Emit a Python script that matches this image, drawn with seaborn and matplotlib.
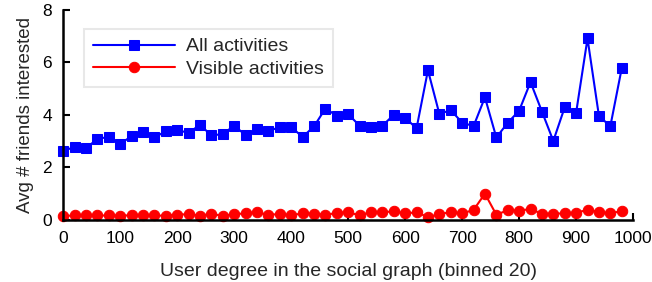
import pandas as pd
import matplotlib
matplotlib.use("Agg")
import matplotlib.pyplot as plt
import seaborn as sns

# Data (degree bins of 20)
degree = list(range(0, 1000, 20))
all_activities = [
    2.63, 2.78, 2.73, 3.09, 3.16, 2.90, 3.19, 3.34, 3.14, 3.38,
    3.42, 3.32, 3.62, 3.22, 3.27, 3.59, 3.23, 3.46, 3.38, 3.54,
    3.54, 3.16, 3.56, 4.24, 3.97, 4.03, 3.59, 3.54, 3.59, 4.00,
    3.89, 3.49, 5.70, 4.04, 4.18, 3.71, 3.57, 4.67, 3.14, 3.70,
    4.16, 5.25, 4.13, 3.01, 4.29, 4.08, 6.91, 3.97, 3.56, 5.77,
]
visible_activities = [
    0.14, 0.18, 0.18, 0.17, 0.17, 0.16, 0.18, 0.17, 0.17, 0.16,
    0.20, 0.22, 0.16, 0.24, 0.15, 0.22, 0.25, 0.30, 0.19, 0.23,
    0.18, 0.25, 0.24, 0.19, 0.27, 0.29, 0.18, 0.30, 0.29, 0.33,
    0.25, 0.29, 0.11, 0.22, 0.30, 0.25, 0.38, 1.00, 0.20, 0.37,
    0.35, 0.42, 0.23, 0.24, 0.25, 0.28, 0.38, 0.30, 0.25, 0.34,
]

df = pd.DataFrame({"degree": degree, "all": all_activities, "visible": visible_activities})

sns.set_style("ticks")
plt.rcParams["font.family"] = ["Liberation Sans", "DejaVu Sans"]

fig = plt.figure(figsize=(6.52, 2.82), dpi=100)
ax = fig.add_axes([0.097, 0.22, 0.874, 0.745])

sns.lineplot(data=df, x="degree", y="all", ax=ax, color="#0000ff", marker="s",
             markersize=6.5, markeredgecolor="#0000ff", linewidth=1.5,
             label="All activities", clip_on=False)
sns.lineplot(data=df, x="degree", y="visible", ax=ax, color="#ff0000", marker="o",
             markersize=7.5, markeredgecolor="#ff0000", linewidth=1.5,
             label="Visible activities", clip_on=False)

ax.set_xlim(0, 1000)
ax.set_ylim(0, 8)
ax.set_xticks(range(0, 1001, 100))
ax.set_yticks([0, 2, 4, 6, 8])
ax.tick_params(direction="in", length=5, width=1.5, labelsize=12.5, colors="black", pad=8)
for s in ["top", "right"]:
    ax.spines[s].set_visible(False)
for s in ["left", "bottom"]:
    ax.spines[s].set_linewidth(1.8)
    ax.spines[s].set_color("black")

ax.set_xlabel("User degree in the social graph (binned 20)", fontsize=14, labelpad=12)
ax.set_ylabel("Avg # friends interested", fontsize=13.5, labelpad=6)

leg = ax.legend(loc="upper left", bbox_to_anchor=(0.02, 0.955), fontsize=14,
                handlelength=4.2, handletextpad=0.6, borderpad=0.45, labelspacing=0.25,
                fancybox=False, framealpha=1)
leg.get_frame().set_edgecolor("#e8e8e8")
leg.get_frame().set_linewidth(1.5)

fig.savefig("out.png", dpi=100)
